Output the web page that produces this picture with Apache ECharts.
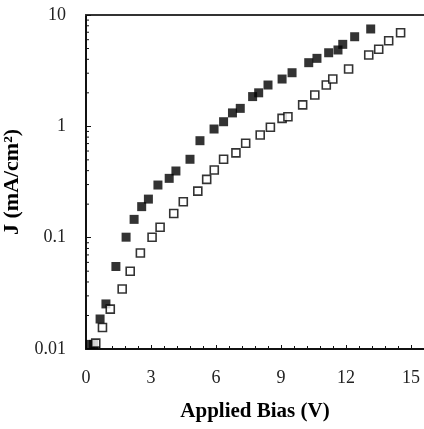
<!DOCTYPE html>
<html><head><meta charset="utf-8">
<script src="https://cdn.jsdelivr.net/npm/echarts@6/dist/echarts.min.js"></script>
<style>html,body{margin:0;padding:0;background:#fff}#c{width:424px;height:429px}</style>
</head><body><div id="c"></div>
<script>
// Filled squares series
const filledX = [0.2, 0.35, 0.65, 0.92, 1.38, 1.85, 2.22, 2.57, 2.88, 3.32, 3.84, 4.15, 4.80, 5.26, 5.91, 6.35, 6.76, 7.12, 7.69, 7.97, 8.40, 9.05, 9.51, 10.28, 10.66, 11.20, 11.63, 11.85, 12.40, 13.14];
const filledY = [0.011, 0.011, 0.0186, 0.0254, 0.0551, 0.101, 0.146, 0.190, 0.222, 0.297, 0.341, 0.397, 0.506, 0.743, 0.946, 1.10, 1.32, 1.45, 1.85, 2.00, 2.35, 2.66, 3.03, 3.73, 4.08, 4.58, 4.85, 5.45, 6.38, 7.49];
// Open squares series
const openX = [0.45, 0.76, 1.12, 1.67, 2.04, 2.51, 3.05, 3.42, 4.05, 4.49, 5.16, 5.57, 5.92, 6.35, 6.92, 7.37, 8.04, 8.51, 9.05, 9.32, 10.0, 10.56, 11.09, 11.39, 12.12, 13.05, 13.51, 13.97, 14.52];
const openY = [0.0113, 0.0156, 0.0228, 0.0346, 0.0499, 0.0728, 0.101, 0.124, 0.165, 0.210, 0.262, 0.334, 0.405, 0.506, 0.577, 0.705, 0.836, 0.980, 1.18, 1.22, 1.56, 1.91, 2.35, 2.66, 3.27, 4.37, 4.92, 5.88, 6.93];
// Axis settings
const xTicks = [0, 3, 6, 9, 12, 15];
const yDecades = [0.01, 0.1, 1, 10];
const minorMultipliers = [2, 3, 4, 5, 6, 7, 8, 9];

const minorTickVals = [];
for (let i = 0; i < yDecades.length - 1; i++) {
  for (const m of minorMultipliers) minorTickVals.push([0, yDecades[i] * m]);
}

const chart = echarts.init(document.getElementById('c'));
const serif = '"Liberation Serif", "DejaVu Serif", serif';
chart.setOption({
  animation: false,
  grid: {left: 86, top: 15, bottom: 80, right: 0, outerBoundsMode: 'none', containLabel: false},
  xAxis: [{
    type: 'value', min: 0, max: 15.6, interval: 3,
    axisLine: {onZero: false, lineStyle: {color: '#111', width: 2}},
    axisTick: {inside: true, length: 4, lineStyle: {color: '#111', width: 1}},
    minorTick: {show: true, splitNumber: 5, length: 3, lineStyle: {color: '#111'}},
    splitLine: {show: false},
    axisLabel: {fontFamily: serif, fontSize: 18, color: '#222', margin: 20, showMaxLabel: false,
      formatter: v => xTicks.includes(v) ? String(v) : ''},
    name: 'Applied Bias (V)', nameLocation: 'middle', nameGap: 52,
    nameTextStyle: {fontFamily: serif, fontSize: 21, fontWeight: 'bold', color: '#000'}
  }, {
    type: 'value', position: 'top', min: 0, max: 15.6,
    axisLine: {show: true, onZero: false, lineStyle: {color: '#333', width: 2}},
    axisTick: {show: false}, axisLabel: {show: false}, splitLine: {show: false}
  }],
  yAxis: {
    type: 'log', min: 0.01, max: 10, logBase: 10,
    axisLine: {show: true, onZero: false, lineStyle: {color: '#111', width: 2}},
    axisTick: {show: true, inside: true, length: 5, lineStyle: {color: '#111'}},
    splitLine: {show: false},
    axisLabel: {fontFamily: serif, fontSize: 18, color: '#222', margin: 20,
      formatter: v => { const r = yDecades.find(d => Math.abs(d - v) / d < 1e-6); return r !== undefined ? String(r) : ''; }},
    name: 'J (mA/cm²)', nameLocation: 'middle', nameGap: 37, nameRotate: 90,
    nameTextStyle: {fontFamily: serif, fontSize: 22, fontWeight: 'bold', color: '#000', lineHeight: 1}
  },
  series: [
    {
      type: 'custom', silent: true, clip: false,
      data: minorTickVals,
      renderItem: (params, api) => {
        const p = api.coord([api.value(0), api.value(1)]);
        return {type: 'line', shape: {x1: p[0], y1: p[1], x2: p[0] + 3, y2: p[1]}, style: {stroke: '#111', lineWidth: 1}};
      }
    },
    {
      type: 'scatter', symbol: 'rect', symbolSize: 9,
      itemStyle: {color: '#000'},
      data: filledX.map((x, i) => [x, filledY[i]])
    },
    {
      type: 'scatter', symbol: 'rect', symbolSize: 8,
      itemStyle: {color: '#fff', borderColor: '#000', borderWidth: 1.6},
      data: openX.map((x, i) => [x, openY[i]])
    }
  ]
});
</script></body></html>
